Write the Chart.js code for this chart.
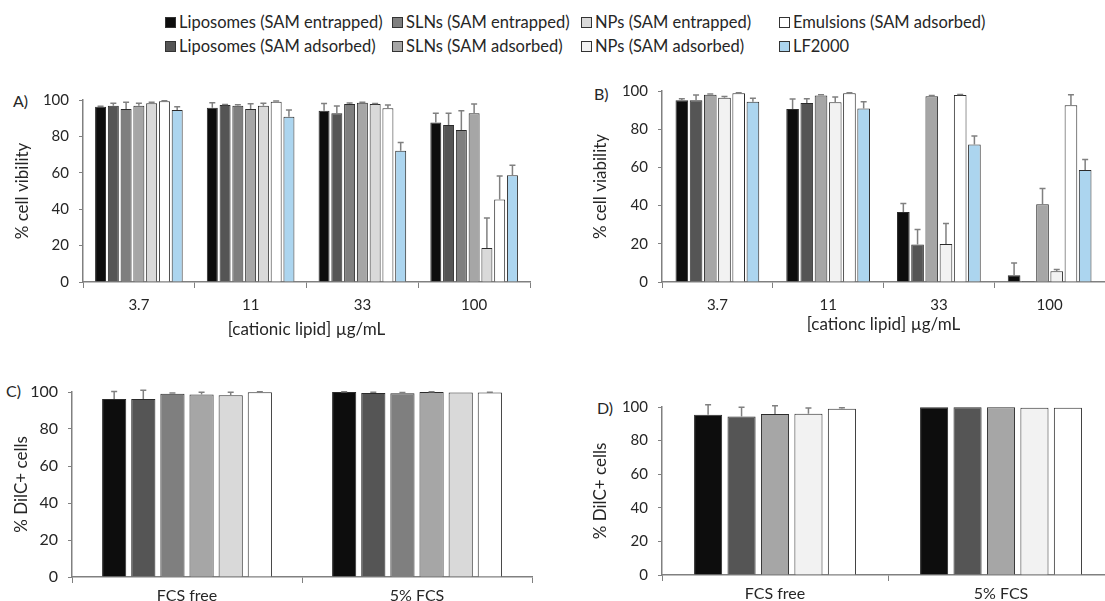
<!DOCTYPE html>
<html>
<head>
<meta charset="utf-8">
<script src="https://cdn.jsdelivr.net/npm/chart.js@4.4.1/dist/chart.umd.min.js"></script>
<style>
  body { margin: 0; width: 1105px; height: 601px; background: #fff; position: relative; overflow: hidden;
         font-family: Lato, "Open Sans", sans-serif; color: #262626; }
  canvas { position: absolute; }
  .tag { position: absolute; font-size: 16px; line-height: 20px; }
  .item { position: absolute; font-size: 16.5px; line-height: 20px; white-space: nowrap; }
  .sw { display: inline-block; width: 9px; height: 9px; border: 1px solid #333; margin-right: 3px; vertical-align: 0px; }
</style>
</head>
<body>
<div id="legend"></div>
<div class="tag" style="left:13px;top:91px">A)</div>
<div class="tag" style="left:594px;top:84px">B)</div>
<div class="tag" style="left:6px;top:381px">C)</div>
<div class="tag" style="left:597px;top:398px">D)</div>
<canvas id="chartA" width="545" height="270" style="left:0;top:80px"></canvas>
<canvas id="chartB" width="560" height="280" style="left:545px;top:70px"></canvas>
<canvas id="chartC" width="545" height="231" style="left:0;top:370px"></canvas>
<canvas id="chartD" width="580" height="216" style="left:545px;top:385px"></canvas>
<script>
// kategori
const doseLabels = ['3.7', '11', '33', '100'];
const serumLabels = ['FCS free', '5% FCS'];
const yTicks = [0, 20, 40, 60, 80, 100];

// legenda (urutan kolom)
const seriesNames = ['Liposomes (SAM entrapped)', 'Liposomes (SAM adsorbed)', 'SLNs (SAM entrapped)', 'SLNs (SAM adsorbed)',
                     'NPs (SAM entrapped)', 'NPs (SAM adsorbed)', 'Emulsions (SAM adsorbed)', 'LF2000'];
const seriesColors = ['#0d0d0d', '#555555', '#7f7f7f', '#a6a6a6', '#d9d9d9', '#f2f2f2', '#ffffff', '#acd5ef'];

// A) % cell vibility
const aLipoE = [96.3, 95.8, 94.1, 87.7];      const aLipoEErr = [0.3, 2.7, 4.0, 5.0];
const aLipoA = [96.9, 97.2, 92.7, 86.2];      const aLipoAErr = [1.3, 0.3, 4.0, 6.5];
const aSlnE = [95.0, 96.9, 97.8, 83.5];       const aSlnEErr = [3.7, 0.5, 0.5, 10.6];
const aSlnA = [96.9, 95.0, 98.5, 92.7];       const aSlnAErr = [1.3, 3.0, 0.3, 5.1];
const aNpE = [98.2, 96.9, 97.8, 18.7];        const aNpEErr = [0.5, 1.3, 0.3, 16.5];
const aEmul = [99.3, 99.1, 95.4, 45.3];       const aEmulErr = [0.3, 0.3, 1.8, 12.9];
const aLf = [94.5, 90.8, 72.1, 58.6];         const aLfErr = [1.8, 3.7, 4.6, 5.6];

// B) % cell viability
const bLipoE = [95.1, 90.6, 36.7, 3.5];       const bLipoEErr = [0.8, 5.2, 4.4, 6.5];
const bLipoA = [95.1, 93.7, 19.6, 0.5];       const bLipoAErr = [2.8, 2.3, 7.9, 0];
const bSlnA = [98.1, 97.7, 97.2, 40.7];       const bSlnAErr = [0.3, 0.3, 0.4, 8.3];
const bNpA = [96.5, 94.1, 19.9, 5.6];         const bNpAErr = [0.6, 2.8, 10.7, 1.0];
const bEmul = [98.8, 98.8, 97.9, 92.6];       const bEmulErr = [0.3, 0.3, 0.3, 5.5];
const bLf = [94.4, 90.9, 72.0, 58.7];         const bLfErr = [1.8, 3.5, 4.4, 5.5];

// C) % DilC+ cells
const cLipoE = [96.2, 100.0];   const cLipoEErr = [4.1, 0.2];
const cLipoA = [96.2, 99.5];    const cLipoAErr = [4.7, 0.3];
const cSlnE = [99.0, 99.3];     const cSlnEErr = [0.5, 0.4];
const cSlnA = [98.6, 100.0];    const cSlnAErr = [1.2, 0.2];
const cNpE = [98.3, 99.7];      const cNpEErr = [1.6, 0];
const cEmul = [99.9, 99.7];     const cEmulErr = [0.2, 0.2];

// D) % DilC+ cells
const dLipoE = [95.4, 99.8];    const dLipoEErr = [6.0, 0];
const dLipoA = [94.4, 99.8];    const dLipoAErr = [5.4, 0];
const dSlnA = [95.8, 99.8];     const dSlnAErr = [5.0, 0];
const dNpA = [96.0, 99.5];      const dNpAErr = [3.4, 0];
const dEmul = [99.0, 99.5];     const dEmulErr = [0.5, 0];

// legenda HTML
const legendCols = [165, 392, 581, 779];
const legendRows = [12, 36];
const legendEl = document.getElementById('legend');
seriesNames.forEach((name, i) => {
    const div = document.createElement('div');
    div.className = 'item';
    div.style.left = legendCols[Math.floor(i / 2)] + 'px';
    div.style.top = legendRows[i % 2] + 'px';
    div.innerHTML = `<span class="sw" style="background:${seriesColors[i]}"></span>${name}`;
    legendEl.appendChild(div);
});

// plugin error bar (hanya ke atas)
const errorBars = {
    id: 'errorBars',
    afterDatasetsDraw(chart) {
        const ctx = chart.ctx;
        const yScale = chart.scales.y;
        chart.data.datasets.forEach((ds, i) => {
            chart.getDatasetMeta(i).data.forEach((bar, j) => {
                const err = ds.errors[j];
                if (!err) return;
                const yTop = yScale.getPixelForValue(ds.data[j] + err);
                ctx.save();
                ctx.strokeStyle = '#808080';
                ctx.lineWidth = 1.5;
                ctx.beginPath();
                ctx.moveTo(bar.x, bar.y);
                ctx.lineTo(bar.x, yTop);
                ctx.moveTo(bar.x - 3, yTop);
                ctx.lineTo(bar.x + 3, yTop);
                ctx.stroke();
                ctx.restore();
            });
        });
    }
};

function makeDataset(idx, values, errors) {
    return {
        label: seriesNames[idx],
        data: values,
        errors: errors,
        backgroundColor: seriesColors[idx],
        borderColor: '#2b2b2b',
        borderWidth: 1,
        clip: false
    };
}

function makePanel(id, labels, datasets, o) {
    new Chart(document.getElementById(id), {
        type: 'bar',
        data: { labels: labels, datasets: datasets },
        options: {
            responsive: false,
            animation: false,
            devicePixelRatio: 1,
            categoryPercentage: o.cat,
            barPercentage: o.bar,
            layout: { padding: { left: 0, top: o.top, right: o.right, bottom: 0 } },
            plugins: { legend: { display: false }, tooltip: { enabled: false } },
            scales: {
                x: {
                    grid: { display: true, drawOnChartArea: false, drawTicks: true, tickLength: 6, color: '#808080', offset: true },
                    border: { color: '#808080', width: 1.5 },
                    ticks: { color: '#262626', font: { family: 'Lato', size: o.xFont }, padding: o.xPad },
                    title: { display: !!o.xTitle, text: o.xTitle, color: '#262626',
                             font: { family: 'Lato', size: 17 }, padding: { top: 0, bottom: o.xTitlePad || 0 } },
                    afterFit: s => { s.height = o.xHeight; }
                },
                y: {
                    min: 0, max: 100,
                    afterBuildTicks: s => { s.ticks = yTicks.map(v => ({ value: v })); },
                    grid: { display: true, drawOnChartArea: false, drawTicks: true, tickLength: 4, color: '#808080' },
                    border: { color: '#808080', width: 1.5 },
                    ticks: { color: '#262626', font: { family: 'Lato', size: o.yFont }, padding: 10 },
                    title: { display: true, text: o.yTitle, color: '#262626',
                             font: { family: 'Lato', size: 17 }, padding: { top: o.yTitlePad, bottom: 0 } },
                    afterFit: s => { s.width = o.yWidth; }
                }
            }
        },
        plugins: [errorBars]
    });
}

makePanel('chartA', doseLabels, [
    makeDataset(0, aLipoE, aLipoEErr),
    makeDataset(1, aLipoA, aLipoAErr),
    makeDataset(2, aSlnE, aSlnEErr),
    makeDataset(3, aSlnA, aSlnAErr),
    makeDataset(4, aNpE, aNpEErr),
    makeDataset(6, aEmul, aEmulErr),
    makeDataset(7, aLf, aLfErr)
], { top: 20, right: 15, yWidth: 83, xHeight: 68, yTitle: '% cell vibility', yTitlePad: 12,
     xTitle: '[cationic lipid] µg/mL', xTitlePad: 10, xFont: 15, xPad: 8, yFont: 15, cat: 0.8, bar: 0.86 });

makePanel('chartB', doseLabels, [
    makeDataset(0, bLipoE, bLipoEErr),
    makeDataset(1, bLipoA, bLipoAErr),
    makeDataset(3, bSlnA, bSlnAErr),
    makeDataset(5, bNpA, bNpAErr),
    makeDataset(6, bEmul, bEmulErr),
    makeDataset(7, bLf, bLfErr)
], { top: 21, right: 0, yWidth: 117, xHeight: 68, yTitle: '% cell viability', yTitlePad: 45,
     xTitle: '[cationc lipid] µg/mL', xTitlePad: 15, xFont: 15, xPad: 8, yFont: 15, cat: 0.77, bar: 0.89 });

makePanel('chartC', serumLabels, [
    makeDataset(0, cLipoE, cLipoEErr),
    makeDataset(1, cLipoA, cLipoAErr),
    makeDataset(2, cSlnE, cSlnEErr),
    makeDataset(3, cSlnA, cSlnAErr),
    makeDataset(4, cNpE, cNpEErr),
    makeDataset(6, cEmul, cEmulErr)
], { top: 22, right: 13, yWidth: 72, xHeight: 24, yTitle: '% DilC+ cells', yTitlePad: 11,
     xTitle: '', xFont: 16, xPad: 3, yFont: 16, cat: 0.76, bar: 0.83 });

makePanel('chartD', serumLabels, [
    makeDataset(0, dLipoE, dLipoEErr),
    makeDataset(1, dLipoA, dLipoAErr),
    makeDataset(3, dSlnA, dSlnAErr),
    makeDataset(5, dNpA, dNpAErr),
    makeDataset(6, dEmul, dEmulErr)
], { top: 22, right: 11, yWidth: 117, xHeight: 26, yTitle: '% DilC+ cells', yTitlePad: 45,
     xTitle: '', xFont: 16, xPad: 3, yFont: 15, cat: 0.74, bar: 0.84 });
</script>
</body>
</html>
